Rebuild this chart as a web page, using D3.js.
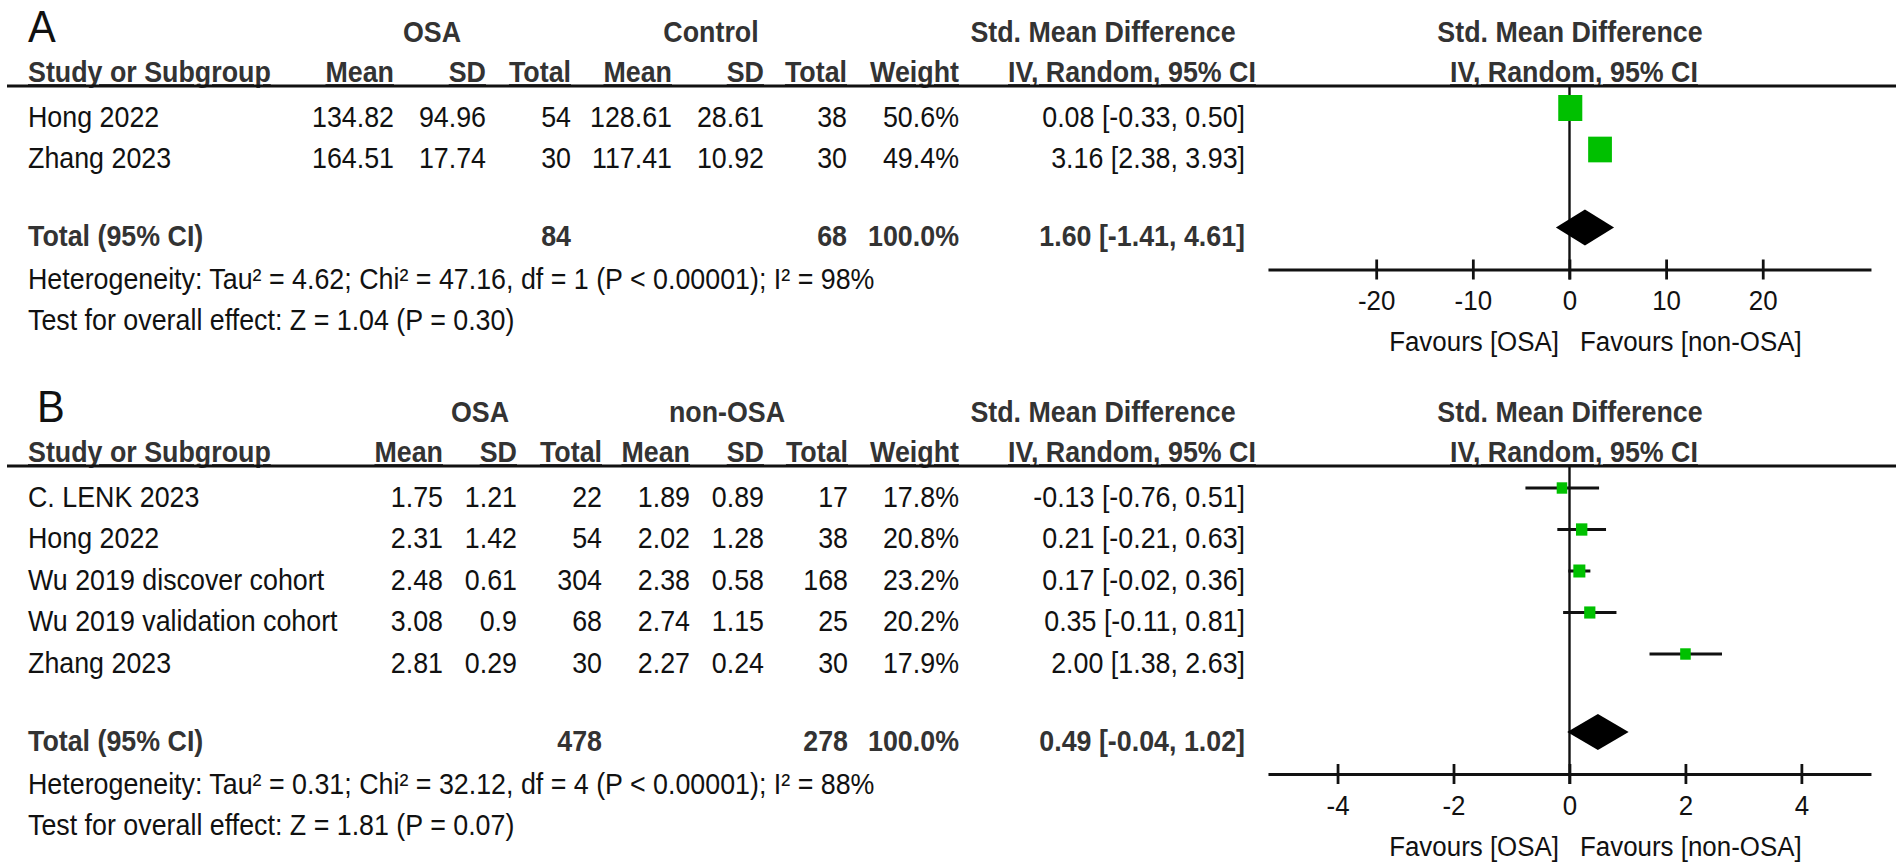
<!DOCTYPE html>
<html>
<head>
<meta charset="utf-8">
<script src="https://cdn.jsdelivr.net/npm/d3@7"></script>
<style>
  html, body { margin: 0; padding: 0; background: #fff; overflow: hidden; }
  svg { display: block; }
  text { font-family: Arial, "Liberation Sans", sans-serif; }
</style>
</head>
<body>
<div id="plot"></div>
<script>
    // Panel A: OSA vs Control
    const studiesA = ['Hong 2022', 'Zhang 2023'];
    const osaMeanA = [134.82, 164.51];
    const osaSdA = [94.96, 17.74];
    const osaNA = [54, 30];
    const ctrlMeanA = [128.61, 117.41];
    const ctrlSdA = [28.61, 10.92];
    const ctrlNA = [38, 30];
    const weightA = [50.6, 49.4];
    const smdA = [0.08, 3.16];
    const lowA = [-0.33, 2.38];
    const highA = [0.50, 3.93];
    const totalA = { osaN: 84, ctrlN: 68, weight: 100.0, smd: 1.60, low: -1.41, high: 4.61 };
    const hetA = 'Heterogeneity: Tau² = 4.62; Chi² = 47.16, df = 1 (P < 0.00001); I² = 98%';
    const testA = 'Test for overall effect: Z = 1.04 (P = 0.30)';
    const ticksA = [-20, -10, 0, 10, 20];

    // Panel B: OSA vs non-OSA
    const studiesB = ['C. LENK 2023', 'Hong 2022', 'Wu 2019 discover cohort', 'Wu 2019 validation cohort', 'Zhang 2023'];
    const osaMeanB = [1.75, 2.31, 2.48, 3.08, 2.81];
    const osaSdB = [1.21, 1.42, 0.61, 0.9, 0.29];
    const osaNB = [22, 54, 304, 68, 30];
    const ctrlMeanB = [1.89, 2.02, 2.38, 2.74, 2.27];
    const ctrlSdB = [0.89, 1.28, 0.58, 1.15, 0.24];
    const ctrlNB = [17, 38, 168, 25, 30];
    const weightB = [17.8, 20.8, 23.2, 20.2, 17.9];
    const smdB = [-0.13, 0.21, 0.17, 0.35, 2.00];
    const lowB = [-0.76, -0.21, -0.02, -0.11, 1.38];
    const highB = [0.51, 0.63, 0.36, 0.81, 2.63];
    const totalB = { osaN: 478, ctrlN: 278, weight: 100.0, smd: 0.49, low: -0.04, high: 1.02 };
    const hetB = 'Heterogeneity: Tau² = 0.31; Chi² = 32.12, df = 4 (P < 0.00001); I² = 88%';
    const testB = 'Test for overall effect: Z = 1.81 (P = 0.07)';
    const ticksB = [-4, -2, 0, 2, 4];

    // the figure is slightly condensed horizontally, so draw in a stretched viewBox
    const W = 1902, H = 865, SX = 0.925;
    const sx = v => v / SX;

    const svg = d3.select('#plot')
        .append('svg')
        .attr('width', W)
        .attr('height', H)
        .attr('viewBox', `0 0 ${W / SX} ${H}`)
        .attr('preserveAspectRatio', 'none');

    const FS = 29;
    const BOLD_COL = '#333';
    const TXT_COL = '#111';
    const GREEN = '#00c000';

    function txt(x, y, s, opt = {}) {
        return svg.append('text')
            .attr('x', sx(x))
            .attr('y', y)
            .attr('font-size', opt.size || FS)
            .attr('font-weight', opt.bold ? 'bold' : 'normal')
            .attr('fill', opt.bold ? BOLD_COL : TXT_COL)
            .attr('text-anchor', opt.anchor || 'start')
            .style('text-decoration', opt.underline ? 'underline' : null)
            .text(s);
    }

    function drawPanel(p) {
        const top = p.top;
        const row1 = top + 42, row2 = top + 82, lineY = top + 86;
        const firstRow = top + 127, step = 41.5;
        const rowY = p.studies.map((d, i) => firstRow + i * step);
        const totalY = rowY[rowY.length - 1] + 78;
        const hetY = totalY + 43;
        const testY = hetY + 41;
        const axisY = totalY + 23;
        const markOff = 19;
        const c = p.cols;

        // panel letter
        txt(p.letterX, top + 42, p.letter, { size: 45 });

        // group headers
        txt(p.g1x, row1, p.g1, { bold: true, anchor: 'middle' });
        txt(p.g2x, row1, p.g2, { bold: true, anchor: 'middle' });
        txt(1103, row1, 'Std. Mean Difference', { bold: true, anchor: 'middle' });
        txt(1570, row1, 'Std. Mean Difference', { bold: true, anchor: 'middle' });

        // column headers
        const hdr = ['Mean', 'SD', 'Total', 'Mean', 'SD', 'Total', 'Weight'];
        txt(28, row2, 'Study or Subgroup', { bold: true, underline: true });
        hdr.forEach((h, i) => txt(c[i], row2, h, { bold: true, anchor: 'end', underline: true }));
        txt(1132, row2, 'IV, Random, 95% CI', { bold: true, anchor: 'middle', underline: true });
        txt(1574, row2, 'IV, Random, 95% CI', { bold: true, anchor: 'middle', underline: true });

        svg.append('line')
            .attr('x1', sx(7)).attr('x2', sx(1896))
            .attr('y1', lineY).attr('y2', lineY)
            .attr('stroke', '#111').attr('stroke-width', 3);

        // study rows
        p.studies.forEach((s, i) => {
            const y = rowY[i];
            txt(28, y, s);
            const vals = [String(p.osaMean[i]), String(p.osaSd[i]), String(p.osaN[i]),
                String(p.ctrlMean[i]), String(p.ctrlSd[i]), String(p.ctrlN[i]),
                p.weight[i].toFixed(1) + '%'];
            vals.forEach((v, j) => txt(c[j], y, v, { anchor: 'end' }));
            txt(1245, y, `${p.smd[i].toFixed(2)} [${p.low[i].toFixed(2)}, ${p.high[i].toFixed(2)}]`, { anchor: 'end' });
        });

        // total row
        const t = p.total;
        txt(28, totalY, 'Total (95% CI)', { bold: true });
        txt(c[2], totalY, String(t.osaN), { bold: true, anchor: 'end' });
        txt(c[5], totalY, String(t.ctrlN), { bold: true, anchor: 'end' });
        txt(c[6], totalY, t.weight.toFixed(1) + '%', { bold: true, anchor: 'end' });
        txt(1245, totalY, `${t.smd.toFixed(2)} [${t.low.toFixed(2)}, ${t.high.toFixed(2)}]`, { bold: true, anchor: 'end' });

        txt(28, hetY, p.het);
        txt(28, testY, p.test);

        // forest plot
        const x = d3.scaleLinear().domain(p.domain).range([sx(1268), sx(1871)]);

        svg.append('line')
            .attr('x1', x(0)).attr('x2', x(0))
            .attr('y1', lineY).attr('y2', axisY + 10)
            .attr('stroke', '#111').attr('stroke-width', 2.6);

        const maxW = d3.max(p.weight);
        const side = w => p.maxSide * Math.sqrt(w / maxW);

        svg.selectAll(null)
            .data(p.studies)
            .enter()
            .append('line')
            .attr('x1', (d, i) => x(p.low[i]))
            .attr('x2', (d, i) => x(p.high[i]))
            .attr('y1', (d, i) => rowY[i] - markOff)
            .attr('y2', (d, i) => rowY[i] - markOff)
            .attr('stroke', '#111')
            .attr('stroke-width', 3);

        svg.selectAll(null)
            .data(p.studies)
            .enter()
            .append('rect')
            .attr('x', (d, i) => x(p.smd[i]) - side(p.weight[i]) / 2)
            .attr('y', (d, i) => rowY[i] - markOff - side(p.weight[i]) / 2)
            .attr('width', (d, i) => side(p.weight[i]))
            .attr('height', (d, i) => side(p.weight[i]))
            .attr('fill', GREEN);

        const dy = totalY - markOff;
        svg.append('path')
            .attr('d', `M${x(t.low)},${dy} L${x(t.smd)},${dy - 18} L${x(t.high)},${dy} L${x(t.smd)},${dy + 18} Z`)
            .attr('fill', '#000');

        const axis = d3.axisBottom(x)
            .tickValues(p.ticks)
            .tickSize(10)
            .tickSizeOuter(0)
            .tickFormat(d => String(d));

        const gAx = svg.append('g')
            .attr('transform', `translate(0, ${axisY})`)
            .call(axis)
            .attr('font-family', 'Arial, "Liberation Sans", sans-serif');
        gAx.select('.domain').attr('stroke', '#111').attr('stroke-width', 3);
        gAx.selectAll('.tick line').attr('y1', -10).attr('y2', 10).attr('stroke', '#111').attr('stroke-width', 3);
        gAx.selectAll('.tick text')
            .attr('y', 41).attr('dy', null)
            .attr('font-size', 28).attr('fill', TXT_COL);

        txt(1559, axisY + 82, 'Favours [OSA]', { size: 28, anchor: 'end' });
        txt(1580, axisY + 82, 'Favours [non-OSA]', { size: 28 });
    }

    drawPanel({
        top: 0, letter: 'A', letterX: 28,
        g1: 'OSA', g1x: 432, g2: 'Control', g2x: 711,
        cols: [394, 486, 571, 672, 764, 847, 959],
        studies: studiesA, osaMean: osaMeanA, osaSd: osaSdA, osaN: osaNA,
        ctrlMean: ctrlMeanA, ctrlSd: ctrlSdA, ctrlN: ctrlNA,
        weight: weightA, smd: smdA, low: lowA, high: highA, total: totalA,
        het: hetA, test: testA, ticks: ticksA, domain: [-31.2, 31.2], maxSide: 26
    });

    drawPanel({
        top: 380, letter: 'B', letterX: 37,
        g1: 'OSA', g1x: 480, g2: 'non-OSA', g2x: 727,
        cols: [443, 517, 602, 690, 764, 848, 959],
        studies: studiesB, osaMean: osaMeanB, osaSd: osaSdB, osaN: osaNB,
        ctrlMean: ctrlMeanB, ctrlSd: ctrlSdB, ctrlN: ctrlNB,
        weight: weightB, smd: smdB, low: lowB, high: highB, total: totalB,
        het: hetB, test: testB, ticks: ticksB, domain: [-5.2, 5.2], maxSide: 13
    });
</script>
</body>
</html>
